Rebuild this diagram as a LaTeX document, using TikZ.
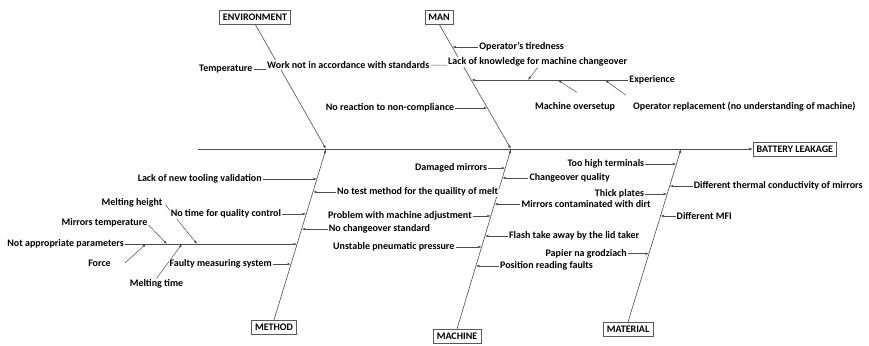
\documentclass[tikz,border=0pt]{standalone}
\usepackage{fontspec}
\setmainfont{Carlito}
\usetikzlibrary{positioning,calc,arrows.meta,backgrounds}

\tikzset{
  catbox/.style={draw=black!65, fill=white, inner xsep=3.5pt, minimum height=14pt, font=\fontsize{10}{12}\selectfont\bfseries},
  cause/.style={fill=white, inner sep=1pt, font=\fontsize{10}{12}\selectfont\bfseries},
  bone/.style={draw=black!70, line width=0.6pt, -{Latex[length=4pt,width=2.6pt]}},
  twig/.style={draw=black!70, line width=0.5pt, -{Latex[length=3.5pt,width=2.4pt]}},
}

\begin{document}
\begin{tikzpicture}[x=1pt,y=-1pt]
  \useasboundingbox (0,0) rectangle (869,345);

  % Spina
  \coordinate (tail) at (198,149);
  \coordinate (spA) at (326,149);
  \coordinate (spB) at (511,149);
  \coordinate (spC) at (681,149);
  \node[catbox, anchor=west] (leak) at (753,149) {BATTERY LEAKAGE};

  % Environment
  \coordinate (envT) at (255,24);
  \node[catbox, above=0pt of envT] (env) {ENVIRONMENT};
  \coordinate (e1) at ($(envT)!0.36!(spA)$);
  \node[cause, left=27pt of e1] (temp) {Temperature};
  \node[cause, anchor=west] (work) at (266,65) {Work not in accordance with standards};

  % Man
  \coordinate (manT) at (439,24);
  \node[catbox, above=0pt of manT] (man) {MAN};
  \coordinate (m0) at ($(manT)!0.328!(spB)$);
  \coordinate (m1) at ($(manT)!0.184!(spB)$);
  \coordinate (m2) at ($(manT)!0.448!(spB)$);
  \coordinate (m3) at ($(manT)!0.672!(spB)$);
  \node[cause, right=26pt of m1] (tired) {Operator’s tiredness};
  \node[cause, anchor=west] (lack) at (447,62) {Lack of knowledge for machine changeover};
  \node[cause, right=157pt of m2] (exper) {Experience};
  \coordinate (s1) at (528,80);
  \coordinate (s2) at (558,80);
  \coordinate (s3) at (605,80);
  \node[cause] (msetup) at (575,107) {Machine oversetup};
  \node[cause, anchor=west] (repl) at (632,107) {Operator replacement (no understanding of machine)};
  \node[cause, left=32pt of m3] (noreact) {No reaction to non-compliance};

  % Method
  \coordinate (methT) at (274,320);
  \node[catbox, below=0pt of methT] (meth) {METHOD};
  \coordinate (q1) at ($(spA)!0.175!(methT)$);
  \coordinate (q2) at ($(spA)!0.251!(methT)$);
  \coordinate (q3) at ($(spA)!0.380!(methT)$);
  \coordinate (q4) at ($(spA)!0.468!(methT)$);
  \coordinate (q5) at ($(spA)!0.556!(methT)$);
  \coordinate (q6) at ($(spA)!0.673!(methT)$);
  \node[cause, left=54pt of q1] (tooling) {Lack of new tooling validation};
  \node[cause, right=23pt of q2] (notest) {No test method for the quaility of melt};
  \node[cause, right=26pt of q4] (nostd) {No changeover standard};
  \node[cause, left=172pt of q5] (params) {Not appropriate parameters};
  \node[cause, left=18pt of q6] (faulty) {Faulty measuring system};
  \coordinate (p1) at (146,244);
  \coordinate (p2) at (167,244);
  \coordinate (p3) at (182,244);
  \coordinate (p4) at (197,244);
  \node[cause] (force) at (99.5,263) {Force};
  \node[cause] (mtemp) at (104.5,223) {Mirrors temperature};
  \node[cause] (mtime) at (156.5,284) {Melting time};
  \node[cause] (mheight) at (132,203) {Melting height};
  \node[cause, left=24pt of q3] (notime) {No time for quality control};

  % Machine
  \coordinate (machT) at (457,329);
  \node[catbox, below=0pt of machT] (mach) {MACHINE};
  \coordinate (r1) at ($(spB)!0.106!(machT)$);
  \coordinate (r2) at ($(spB)!0.161!(machT)$);
  \coordinate (r3) at ($(spB)!0.306!(machT)$);
  \coordinate (r4) at ($(spB)!0.372!(machT)$);
  \coordinate (r5) at ($(spB)!0.483!(machT)$);
  \coordinate (r6) at ($(spB)!0.544!(machT)$);
  \coordinate (r7) at ($(spB)!0.650!(machT)$);
  \node[cause, left=17pt of r1] (damaged) {Damaged mirrors};
  \node[cause, right=26pt of r2] (chq) {Changeover quality};
  \node[cause, right=26pt of r3] (dirt) {Mirrors contaminated with dirt};
  \node[cause, left=18pt of r4] (adjust) {Problem with machine adjustment};
  \node[cause, right=23pt of r5] (flash) {Flash take away by the lid taker};
  \node[cause, left=26pt of r6] (pneum) {Unstable pneumatic pressure};
  \node[cause, right=23pt of r7] (posit) {Position reading faults};

  % Material
  \coordinate (matT) at (628,322);
  \node[catbox, below=0pt of matT] (mat) {MATERIAL};
  \coordinate (u1) at ($(spC)!0.087!(matT)$);
  \coordinate (u2) at ($(spC)!0.214!(matT)$);
  \coordinate (u3) at ($(spC)!0.260!(matT)$);
  \coordinate (u4) at ($(spC)!0.387!(matT)$);
  \coordinate (u5) at ($(spC)!0.605!(matT)$);
  \node[cause, left=31pt of u1] (terminals) {Too high terminals};
  \node[cause, right=23pt of u2] (thermal) {Different thermal conductivity of mirrors};
  \node[cause, left=22pt of u3] (thick) {Thick plates};
  \node[cause, right=15pt of u4] (mfi) {Different MFI};
  \node[cause, left=21pt of u5] (papier) {Papier na grodziach};

  % Frecce
  \begin{scope}[on background layer]
    \draw[bone] (tail) -- (leak);
    \draw[bone] (env.south) -- (spA);
    \draw[bone] (meth.north) -- (spA);
    \draw[bone] (man.south) -- (spB);
    \draw[bone] (mach.north) -- (spB);
    \draw[bone] (mat.north) -- (spC);

    \draw[twig] (temp) -- (e1);
    \draw[twig] (work) -- (m0);
    \draw[twig] (tired) -- (m1);
    \draw[twig] (exper) -- (m2);
    \draw[twig] (lack.south) -- (s1);
    \draw[twig] ([xshift=2pt,yshift=9pt]msetup.north) -- (s2);
    \draw[twig] ([xshift=-6pt,yshift=6pt]repl.north west) -- (s3);
    \draw[twig] (noreact) -- (m3);

    \draw[twig] (tooling) -- (q1);
    \draw[twig] (notest) -- (q2);
    \draw[twig] (notime) -- (q3);
    \draw[twig] (nostd) -- (q4);
    \draw[twig] (params) -- (q5);
    \draw[twig] (faulty) -- (q6);
    \draw[twig] ([xshift=13pt]force.east) -- (p1);
    \draw[twig] ([yshift=-2pt]mtemp.east) -- (p2);
    \draw[twig] (mtime.north) -- (p3);
    \draw[twig] ([xshift=2pt,yshift=-2pt]mheight.east) -- (p4);

    \draw[twig] (damaged) -- (r1);
    \draw[twig] (chq) -- (r2);
    \draw[twig] (dirt) -- (r3);
    \draw[twig] (adjust) -- (r4);
    \draw[twig] (flash) -- (r5);
    \draw[twig] (pneum) -- (r6);
    \draw[twig] (posit) -- (r7);

    \draw[twig] (terminals) -- (u1);
    \draw[twig] (thermal) -- (u2);
    \draw[twig] (thick) -- (u3);
    \draw[twig] (mfi) -- (u4);
    \draw[twig] (papier) -- (u5);
  \end{scope}
\end{tikzpicture}
\end{document}
